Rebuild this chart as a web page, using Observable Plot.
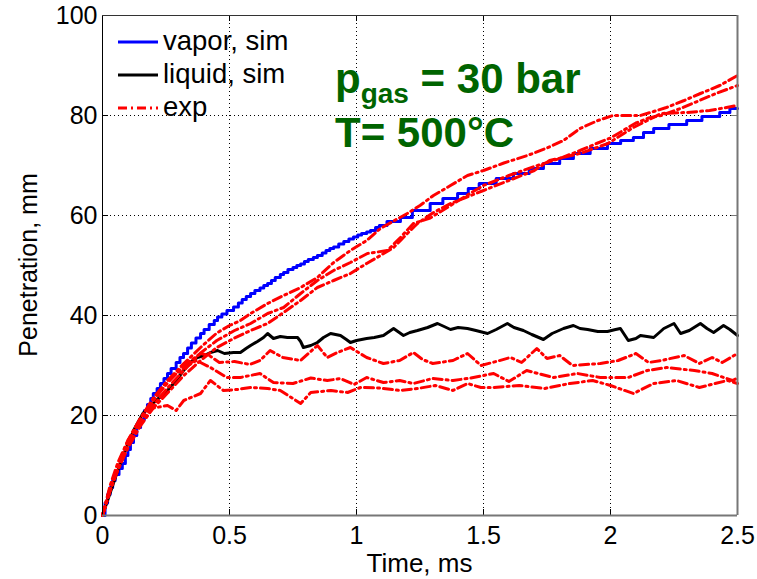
<!DOCTYPE html>
<html>
<head>
<meta charset="utf-8">
<script src="https://cdn.jsdelivr.net/npm/d3@7"></script>
<script src="https://cdn.jsdelivr.net/npm/@observablehq/plot@0.6"></script>
<style>
  html, body { margin: 0; padding: 0; background: #fff; }
  svg { display: block; }
</style>
</head>
<body>
<div id="chart"></div>
<script>
// ---- axes ----
const xDomain = [0, 2.5];
const yDomain = [0, 100];
const xTicks = [0, 0.5, 1, 1.5, 2, 2.5];
const yTicks = [0, 20, 40, 60, 80, 100];
const xLabel = "Time, ms";
const yLabel = "Penetration, mm";
const legendLabels = ["vapor, sim", "liquid, sim", "exp"];
const noteLine1 = ["p", "gas", " = 30 bar"];
const noteLine2 = "T= 500\u00B0C";

// ---- vapor, sim (blue, stepped) ----
const vaporT = [0,0.01,0.02,0.03,0.04,0.05,0.065,0.078,0.09,0.1,0.11,0.122,0.135,0.15,0.165,0.177,0.19,0.2,0.215,0.228,0.242,0.256,0.27,0.29,0.305,0.319,0.335,0.35,0.368,0.386,0.4,0.42,0.44,0.453,0.47,0.49,0.516,0.535,0.55,0.566,0.583,0.6,0.62,0.635,0.65,0.665,0.68,0.7,0.713,0.73,0.75,0.765,0.78,0.795,0.81,0.83,0.846,0.865,0.88,0.895,0.91,0.93,0.95,0.97,0.988,1.005,1.02,1.04,1.055,1.075,1.09,1.12,1.173,1.22,1.29,1.34,1.398,1.44,1.483,1.55,1.618,1.68,1.736,1.8,1.854,1.92,1.988,2.04,2.09,2.13,2.17,2.23,2.3,2.36,2.43,2.47,2.5];
const vaporY = [0,2.5,4.2,5.6,7,8.2,9.4,10.4,12,13.2,14.6,16,17.6,19.2,21,22.2,23.4,24.4,25.4,26.4,27.4,28.4,29.4,30.6,31.6,32.4,33.5,34.5,35.5,36.4,37.2,38.2,39,39.7,40.3,41,41.7,42.5,43.2,43.8,44.4,45,45.5,46,46.4,47,47.6,48.2,48.6,49.2,49.6,50,50.3,50.8,51.2,51.6,52,52.5,53,53.4,53.7,54.3,54.8,55.3,55.7,56.1,56.4,56.7,57,57.6,58,58.8,59.6,61,62.4,63.4,64.4,65.4,66.4,67.4,68.4,69.4,70.4,71.4,72.4,73.4,74.4,75,75.6,76.6,77.4,78.2,79,79.8,80.6,81.4,81.4];

// ---- liquid, sim (black) ----
const liquidT = [0,0.03,0.06,0.09,0.122,0.16,0.2,0.256,0.29,0.319,0.35,0.374,0.4,0.425,0.453,0.48,0.516,0.543,0.565,0.583,0.61,0.634,0.65,0.673,0.7,0.728,0.768,0.78,0.791,0.82,0.846,0.87,0.898,0.937,0.96,0.976,1.0,1.04,1.07,1.106,1.146,1.185,1.21,1.24,1.28,1.319,1.345,1.37,1.4,1.437,1.47,1.516,1.55,1.594,1.62,1.657,1.69,1.736,1.77,1.815,1.854,1.88,1.91,1.95,1.988,2.02,2.039,2.07,2.1,2.118,2.17,2.21,2.25,2.276,2.31,2.354,2.38,2.406,2.445,2.47,2.5];
const liquidY = [0,4.5,9,13,17,20.5,22.5,25,27,29,30.8,31.6,32,32.6,33,32.4,32.6,32.6,33.4,34,34.8,35.6,36.4,35.4,35.8,35.6,35.6,34.8,33.6,34,34.6,35.6,36.4,36,35.2,34.6,35,35.4,35.6,36,37.4,36,36.6,37,37.6,38.4,37.8,37.2,37.6,37.4,37,36.4,37.2,38.4,37.6,37,36.2,35.2,36.4,37.4,38,37.4,37.2,36.8,36.8,37.2,37.4,35,35.4,36,35.6,37.4,38.4,36.4,37,38.4,37.4,36.6,38,37.2,36];

// ---- exp (red dash-dot), vapor-like runs ----
const expU1T = [0,0.03,0.06,0.1,0.15,0.2,0.256,0.32,0.386,0.45,0.5,0.543,0.583,0.65,0.713,0.78,0.846,0.91,0.976,1.04,1.094,1.15,1.2,1.25,1.303,1.37,1.437,1.5,1.58,1.673,1.75,1.815,1.88,1.95,2.01,2.06,2.118,2.17,2.22,2.29,2.354,2.43,2.5];
const expU1Y = [0,6,10.5,15,19.5,23,27,30.4,33.6,36.5,38,39,40.4,42.4,44,45.6,47.6,50.6,53,55,57.4,59,60.4,62,64,66,68,69,70.5,72,73.5,75,77.4,79,80,80,80,80.8,81.6,83,84.4,86,88];
const expU2T = [0,0.03,0.06,0.1,0.15,0.2,0.256,0.32,0.386,0.45,0.52,0.583,0.65,0.713,0.78,0.846,0.91,0.976,1.043,1.122,1.173,1.224,1.29,1.37,1.45,1.5,1.6,1.7,1.8,1.88,1.95,2.0,2.05,2.1,2.15,2.2,2.28,2.35,2.42,2.5];
const expU2Y = [0,5,9.5,14,18.5,22,25.5,29,32.5,35,37,38.4,40.4,41.6,44.4,47,49,50.6,52.4,53,55.6,58.4,59.5,62,64.5,66,68,69.8,71.4,73,74.5,75.5,77,78.5,79.5,80,81.5,83,84.5,86];
const expU3T = [0,0.03,0.06,0.1,0.15,0.2,0.256,0.32,0.386,0.45,0.52,0.583,0.65,0.713,0.78,0.846,0.91,0.976,1.04,1.094,1.146,1.2,1.24,1.3,1.37,1.43,1.5,1.6,1.7,1.76,1.88,1.99,2.09,2.2,2.3,2.39,2.5];
const expU3Y = [0,5.5,9,13.5,18,21.5,24.5,28,31,33.6,35.5,37,38.4,40.6,43,45.6,47,48.4,50.4,52,53.6,56.4,58.4,60.5,62.4,63.6,65,67,69,71,72.4,74.4,77.6,80.4,80.6,81,82];

// ---- exp (red dash-dot), liquid-like runs ----
const expL1T = [0,0.03,0.06,0.1,0.15,0.2,0.256,0.32,0.386,0.42,0.46,0.52,0.58,0.62,0.66,0.71,0.78,0.846,0.885,0.925,0.976,1.04,1.106,1.17,1.224,1.26,1.3,1.38,1.437,1.49,1.55,1.606,1.65,1.71,1.75,1.8,1.85,1.96,2.03,2.1,2.15,2.2,2.29,2.35,2.4,2.44,2.5];
const expL1Y = [0,5,9.5,14.5,19,23,26.5,30,32.4,32,30.6,30.8,30.2,31,33,31.6,31,34,31.6,32.6,33.6,31.6,30.4,31,32.6,31.2,30.4,31,32.4,30,30.8,31.6,30.6,33.4,31.4,32,30,30.4,31,32.4,30.6,31,32,30.4,31.6,30.6,32.4];
const expL2T = [0,0.03,0.06,0.1,0.15,0.2,0.256,0.32,0.37,0.425,0.49,0.543,0.62,0.673,0.75,0.82,0.885,0.937,0.99,1.04,1.106,1.17,1.224,1.3,1.38,1.45,1.54,1.6,1.67,1.775,1.87,1.96,2.07,2.145,2.22,2.33,2.4,2.48,2.5];
const expL2Y = [0,5.5,10,15,19.5,23.5,27,29.5,31,29.6,27.6,27.6,28.4,26.6,26.4,27.5,27,27.4,26.2,27.6,26.6,27,26.4,27.4,27,27.5,28.4,26.8,29,27.6,28.4,27.6,27.6,29,29.6,29,28.4,27,27.5];
const expL3T = [0,0.03,0.06,0.1,0.14,0.17,0.2,0.256,0.29,0.32,0.386,0.425,0.476,0.53,0.583,0.65,0.7,0.78,0.82,0.9,0.965,1.016,1.09,1.17,1.24,1.31,1.38,1.437,1.49,1.54,1.64,1.74,1.84,1.93,2.0,2.09,2.17,2.26,2.35,2.46,2.5];
const expL3Y = [0,5,9,14,18.5,21,21.5,22,21,23,24.4,27,25,25.2,25.6,25.4,25,22.4,24.6,25,24.6,25.6,25.5,25,25.4,26,25,26.4,25.6,25.6,26,25.4,26.4,27,26,24.4,26.4,27,25.6,27,26.4];

const zip = (ts, vs, run) => ts.map((t, i) => ({t, v: vs[i], run}));
const vapor = zip(vaporT, vaporY, "vapor");
const liquid = zip(liquidT, liquidY, "liquid");
const expRuns = [
  zip(expU1T, expU1Y, "u1"), zip(expU2T, expU2Y, "u2"), zip(expU3T, expU3Y, "u3"),
  zip(expL1T, expL1Y, "l1"), zip(expL2T, expL2Y, "l2"), zip(expL3T, expL3Y, "l3")
].flat();

const W = 757, H = 579, mL = 102, mR = 20, mT = 15, mB = 64;
const plotW = W - mL - mR, plotH = H - mT - mB;
const tickLen = 6;
const BLUE = "#0000ff", RED = "#ff0000", BLACK = "#000000", GREEN = "#006400";
const expDash = "9,4,2,4";

const chart = Plot.plot({
  width: W, height: H,
  marginLeft: mL, marginRight: mR, marginTop: mT, marginBottom: mB,
  style: {fontFamily: "'Liberation Sans', Arial, sans-serif", fontSize: "25px", background: "#fff", color: "#000", overflow: "visible"},
  x: {domain: xDomain, ticks: xTicks, tickFormat: d => String(d), tickSize: 0, tickPadding: 11, label: null},
  y: {domain: yDomain, ticks: yTicks, tickFormat: d => String(d), tickSize: 0, tickPadding: 5, label: null},
  marks: [
    Plot.ruleX(xTicks, {x: d => d, stroke: "#000", strokeWidth: 1, strokeDasharray: "1,3"}),
    Plot.ruleY(yTicks, {y: d => d, stroke: "#000", strokeWidth: 1, strokeDasharray: "1,3"}),
    Plot.line(vapor, {x: "t", y: "v", curve: "step-after", stroke: BLUE, strokeWidth: 3}),
    Plot.line(liquid, {x: "t", y: "v", stroke: BLACK, strokeWidth: 3}),
    Plot.line(expRuns, {x: "t", y: "v", z: "run", stroke: RED, strokeWidth: 3, strokeDasharray: expDash}),
    // inside ticks on all four sides
    Plot.tickX(xTicks, {x: d => d, stroke: "#000", insetTop: plotH - tickLen}),
    Plot.tickX(xTicks, {x: d => d, stroke: "#000", insetBottom: plotH - tickLen}),
    Plot.tickY(yTicks, {y: d => d, stroke: "#000", insetRight: plotW - tickLen}),
    Plot.tickY(yTicks, {y: d => d, stroke: "#777", insetLeft: plotW - tickLen}),
    // box
    Plot.ruleX([xDomain[0]], {stroke: "#000", strokeWidth: 1}),
    Plot.ruleY([yDomain[1]], {stroke: "#333", strokeWidth: 1}),
    Plot.ruleY([yDomain[0]], {stroke: "#777", strokeWidth: 2}),
    Plot.ruleX([xDomain[1]], {stroke: "#777", strokeWidth: 2})
  ]
});

document.getElementById("chart").appendChild(chart);
const svg = d3.select(chart);
const overlay = svg.append("g").attr("text-anchor", "start")
  .attr("font-family", "'Liberation Sans', Arial, sans-serif");

// axis titles
overlay.append("text")
  .attr("x", mL + plotW / 2).attr("y", 563).attr("dy", "0.35em")
  .attr("text-anchor", "middle").attr("font-size", 26).attr("fill", "#000")
  .text(xLabel);
overlay.append("text")
  .attr("transform", `translate(28,${mT + plotH / 2}) rotate(-90)`).attr("dy", "0.35em")
  .attr("text-anchor", "middle").attr("font-size", 25).attr("fill", "#000")
  .text(yLabel);

// legend (no box)
const legendStyles = [
  {stroke: BLUE, width: 3, dash: null},
  {stroke: BLACK, width: 3, dash: null},
  {stroke: RED, width: 3, dash: "9,4,2,4"}
];
const legendY = [42, 75, 108];
legendLabels.forEach((lab, i) => {
  const st = legendStyles[i];
  const ln = overlay.append("line")
    .attr("x1", 118).attr("x2", 158).attr("y1", legendY[i]).attr("y2", legendY[i])
    .attr("stroke", st.stroke).attr("stroke-width", st.width);
  if (st.dash) ln.attr("stroke-dasharray", st.dash);
  overlay.append("text")
    .attr("x", 163).attr("y", legendY[i]).attr("dy", "0.3em")
    .attr("text-anchor", "start")
    .attr("font-size", 27.5).attr("fill", "#000")
    .text(lab);
});

// annotation
const note1 = overlay.append("text")
  .attr("x", 335).attr("y", 93).attr("text-anchor", "start")
  .attr("font-size", 42).attr("font-weight", "bold").attr("fill", GREEN);
note1.append("tspan").text(noteLine1[0]);
note1.append("tspan").attr("font-size", 28).attr("dy", 10).text(noteLine1[1]);
note1.append("tspan").attr("dy", -10).text(noteLine1[2]);
overlay.append("text")
  .attr("x", 335).attr("y", 147).attr("text-anchor", "start")
  .attr("font-size", 42).attr("font-weight", "bold").attr("fill", GREEN)
  .text(noteLine2);
</script>
</body>
</html>
